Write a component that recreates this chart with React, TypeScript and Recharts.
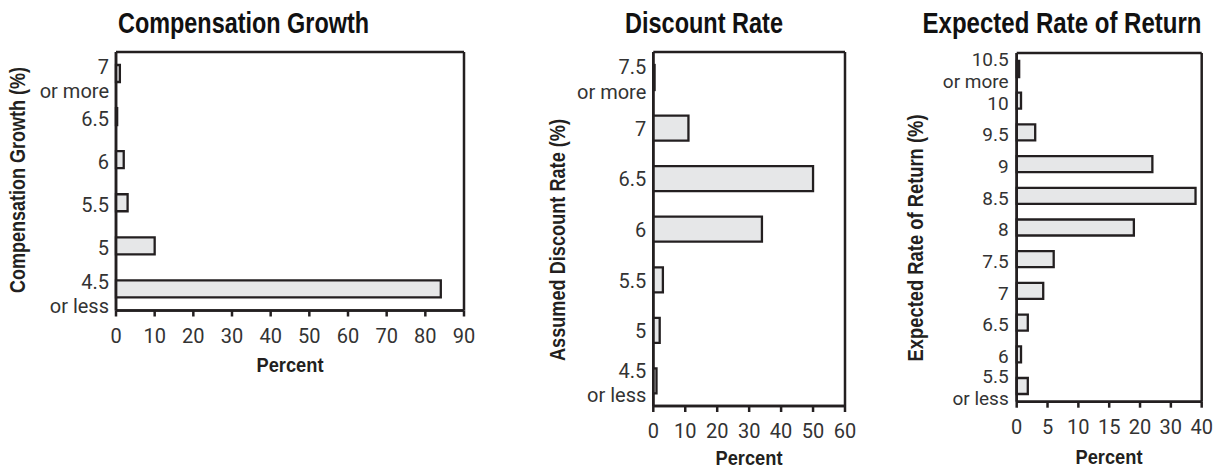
import { BarChart, Bar, XAxis, YAxis, Label, CartesianGrid } from 'recharts';

// Compensation growth (% of plans)
const growthCategories = ['7 or more', '6.5', '6', '5.5', '5', '4.5 or less'];
const growthShares = [1, 0.3, 2, 3, 10, 84];
const growthTicks = [0, 10, 20, 30, 40, 50, 60, 70, 80, 90];

// Assumed discount rate
const discountCategories = ['7.5 or more', '7', '6.5', '6', '5.5', '5', '4.5 or less'];
const discountShares = [0.4, 11, 50, 34, 3, 2, 1];
const discountTicks = [0, 10, 20, 30, 40, 50, 60];

// Expected rate of return (axis is compressed above 20)
const returnCategories = ['10.5 or more', '10', '9.5', '9', '8.5', '8', '7.5', '7', '6.5', '6', '5.5 or less'];
const returnShares = [0.4, 0.7, 3, 24, 38, 19, 6, 4.3, 1.8, 0.7, 1.8];
const returnTicks = [0, 5, 10, 15, 20, 30, 40];

const toAxis = (v: number) => (v <= 20 ? v : 20 + (v - 20) / 2);
const fromAxis = (v: number) => (v <= 20 ? v : 20 + (v - 20) * 2);

const INK = '#231f20';
const TEXT = '#333333';
const BAR_FILL = '#e6e7e8';
const HEAD_FONT = "'Liberation Sans', Arial, sans-serif";
const TICK_FONT = "Roboto, 'Liberation Sans', sans-serif";

type Panel = {
  left: number;
  width: number;
  height: number;
  margin: { top: number; right: number; bottom: number; left: number };
  yAxisWidth: number;
  xAxisHeight: number;
  barSize: number;
  tickFontSize: number;
  title: string;
  titleX: number;
  titleWidth: number;
  yLabel: string;
  yLabelX: number;
  yLabelY: number;
  yLabelWidth: number;
  percentX: number;
  percentY: number;
  lineOffsets: [number, number];
  singleOffset: number;
  tickGap: number;
  domain: [number, number];
  ticks: number[];
  format: (v: number) => string;
  rows: { label: string; value: number }[];
};

function CategoryTick(props: any) {
  const { x, y, payload, lineOffsets, singleOffset, tickGap, fontSize } = props;
  const parts = String(payload.value).split(' or ');
  const tx = x - tickGap;
  const font = { fill: TEXT, fontSize, fontFamily: TICK_FONT };
  if (parts.length === 1) {
    return (
      <text x={tx} y={y + singleOffset} textAnchor="end" {...font}>
        {parts[0]}
      </text>
    );
  }
  return (
    <text textAnchor="end" {...font}>
      <tspan x={tx} y={y + lineOffsets[0]}>{parts[0]}</tspan>
      <tspan x={tx} y={y + lineOffsets[1]}>{'or ' + parts[1]}</tspan>
    </text>
  );
}

function DistributionPanel({ p }: { p: Panel }) {
  const axisLine = { stroke: INK, strokeWidth: 2.5 };
  return (
    <div style={{ position: 'absolute', left: p.left, top: 0 }}>
      <BarChart width={p.width} height={p.height} data={p.rows} layout="vertical" margin={p.margin}>
        <CartesianGrid
          stroke={INK}
          strokeWidth={2.5}
          horizontalCoordinatesGenerator={({ offset }: any) => [offset.top, offset.top + offset.height]}
          verticalCoordinatesGenerator={({ offset }: any) => [offset.left, offset.left + offset.width]}
        />
        <XAxis
          type="number"
          domain={p.domain}
          ticks={p.ticks}
          interval={0}
          tickFormatter={p.format}
          height={p.xAxisHeight}
          axisLine={axisLine}
          tickLine={axisLine}
          tickSize={6}
          tickMargin={12}
          tick={{ fill: TEXT, fontSize: 20, fontFamily: TICK_FONT }}
        >
          <Label
            content={() => (
              <g fontFamily={HEAD_FONT} fontWeight="bold">
                <text
                  transform={`translate(${p.titleX},33) scale(1,1.25)`}
                  textAnchor="middle"
                  fill="#111"
                  fontSize={24}
                  textLength={p.titleWidth}
                  lengthAdjust="spacingAndGlyphs"
                >
                  {p.title}
                </text>
                <text
                  x={p.percentX}
                  y={p.percentY}
                  textAnchor="middle"
                  fill={INK}
                  fontSize={19.5}
                  textLength={67}
                  lengthAdjust="spacingAndGlyphs"
                >
                  Percent
                </text>
              </g>
            )}
          />
        </XAxis>
        <YAxis
          type="category"
          dataKey="label"
          width={p.yAxisWidth}
          interval={0}
          axisLine={axisLine}
          tickLine={false}
          tickSize={0}
          tickMargin={0}
          tick={(t: any) => (
            <CategoryTick
              {...t}
              lineOffsets={p.lineOffsets}
              singleOffset={p.singleOffset}
              tickGap={p.tickGap}
              fontSize={p.tickFontSize}
            />
          )}
        >
          <Label
            content={() => (
              <text
                transform={`translate(${p.yLabelX},${p.yLabelY}) rotate(-90)`}
                textAnchor="middle"
                fill={INK}
                fontSize={22}
                fontWeight="bold"
                fontFamily={HEAD_FONT}
                textLength={p.yLabelWidth}
                lengthAdjust="spacingAndGlyphs"
              >
                {p.yLabel}
              </text>
            )}
          />
        </YAxis>
        <Bar
          dataKey="value"
          fill={BAR_FILL}
          stroke={INK}
          strokeWidth={2.3}
          barSize={p.barSize}
          isAnimationActive={false}
        />
      </BarChart>
    </div>
  );
}

const panels: Panel[] = [
  {
    left: 0,
    width: 480,
    height: 390,
    margin: { top: 52, right: 16, bottom: 29.5, left: 0 },
    yAxisWidth: 116,
    xAxisHeight: 50,
    barSize: 17,
    tickFontSize: 20,
    title: 'Compensation Growth',
    titleX: 243.5,
    titleWidth: 251,
    yLabel: 'Compensation Growth (%)',
    yLabelX: 25,
    yLabelY: 180,
    yLabelWidth: 226,
    percentX: 290,
    percentY: 371.5,
    lineOffsets: [0, 24],
    singleOffset: 9.5,
    tickGap: 7,
    domain: [0, 90],
    ticks: growthTicks,
    format: (v) => String(v),
    rows: growthCategories.map((label, i) => ({ label, value: growthShares[i] })),
  },
  {
    left: 520,
    width: 350,
    height: 469,
    margin: { top: 52, right: 25, bottom: 23, left: 0 },
    yAxisWidth: 133.3,
    xAxisHeight: 40,
    barSize: 25,
    tickFontSize: 20,
    title: 'Discount Rate',
    titleX: 184,
    titleWidth: 158,
    yLabel: 'Assumed Discount Rate (%)',
    yLabelX: 45,
    yLabelY: 240,
    yLabelWidth: 242,
    percentX: 229,
    percentY: 465,
    lineOffsets: [-3, 21.5],
    singleOffset: 8,
    tickGap: 7,
    domain: [0, 60],
    ticks: discountTicks,
    format: (v) => String(v),
    rows: discountCategories.map((label, i) => ({ label, value: discountShares[i] })),
  },
  {
    left: 890,
    width: 331,
    height: 469,
    margin: { top: 53, right: 19.3, bottom: 27.3, left: 0 },
    yAxisWidth: 126.7,
    xAxisHeight: 40,
    barSize: 16,
    tickFontSize: 19,
    title: 'Expected Rate of Return',
    titleX: 172,
    titleWidth: 279,
    yLabel: 'Expected Rate of Return (%)',
    yLabelX: 33,
    yLabelY: 238,
    yLabelWidth: 247,
    percentX: 219,
    percentY: 464,
    lineOffsets: [-2.5, 19],
    singleOffset: 9,
    tickGap: 8,
    domain: [0, toAxis(40)],
    ticks: returnTicks.map(toAxis),
    format: (v) => String(fromAxis(v)),
    rows: returnCategories.map((label, i) => ({ label, value: toAxis(returnShares[i]) })),
  },
];

export default function App() {
  return (
    <div style={{ position: 'absolute', left: 0, top: 0, width: 1221, height: 469, background: '#fff' }}>
      {panels.map((p) => (
        <DistributionPanel key={p.title} p={p} />
      ))}
    </div>
  );
}
